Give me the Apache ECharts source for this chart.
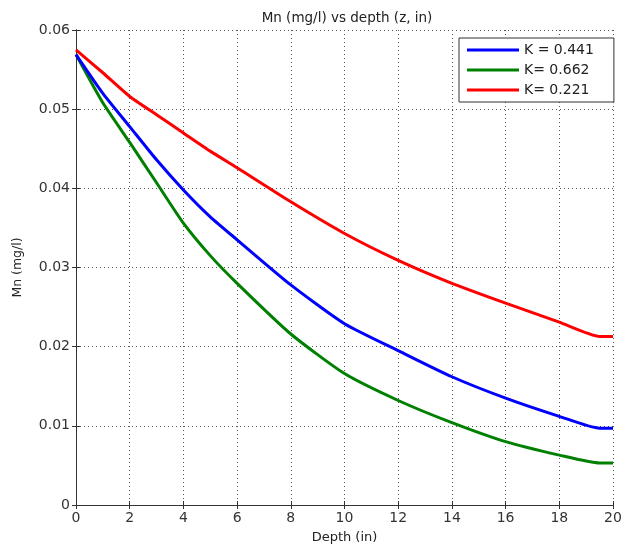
<!DOCTYPE html>
<html><head><meta charset="utf-8">
<script src="https://cdn.jsdelivr.net/npm/echarts@6/dist/echarts.min.js"></script>
<style>html,body{margin:0;padding:0;background:#fff}#c{width:621px;height:546px}</style>
</head><body><div id="c"></div>
<script>
const depth = [0, 1, 2, 3, 4, 5, 6, 8, 10, 12, 14, 16, 18, 19.5, 20];
const k441 = [0.0569, 0.0520, 0.0478, 0.0436, 0.0398, 0.0364, 0.0335, 0.0278, 0.0229, 0.0195, 0.0162, 0.0135, 0.0112, 0.0097, 0.0097];
const k662 = [0.0569, 0.0508, 0.0458, 0.0407, 0.0356, 0.0315, 0.0280, 0.0216, 0.0166, 0.0132, 0.0104, 0.0080, 0.0063, 0.0053, 0.0053];
const k221 = [0.0575, 0.0546, 0.0516, 0.0493, 0.0470, 0.0447, 0.0426, 0.0383, 0.0343, 0.0309, 0.0280, 0.0255, 0.0231, 0.0213, 0.0213];
const seriesNames = ['K = 0.441', 'K= 0.662', 'K= 0.221'];
const seriesColors = ['#0000ff', '#008000', '#ff0000'];
const xTicks = [0, 2, 4, 6, 8, 10, 12, 14, 16, 18, 20];
const yTicks = [0, 0.01, 0.02, 0.03, 0.04, 0.05, 0.06];

const pairs = a => depth.map((d, i) => [d, a[i]]);
const font = 'DejaVu Sans, Verdana, sans-serif';
const chart = echarts.init(document.getElementById('c'));
const axisLine = {show: true, lineStyle: {color: '#333', width: 1}};
const grid = {type: [1, 3], color: '#555', width: 1};
const tick = {show: true, inside: true, length: 4, lineStyle: {color: '#333'}};
chart.setOption({
  animation: false,
  backgroundColor: '#fff',
  title: {text: 'Mn (mg/l) vs depth (z, in)', left: 342, textAlign: 'center', top: 6,
    textStyle: {fontFamily: font, fontSize: 13.5, fontWeight: 'normal', color: '#222'}},
  grid: {left: 76, right: 8, top: 30, bottom: 41, containLabel: false, outerBoundsMode: 'none'},
  legend: {
    orient: 'vertical', left: 459, top: 38, padding: [5, 20, 5, 8],
    backgroundColor: '#fff', borderColor: '#333', borderWidth: 1,
    itemWidth: 52, itemHeight: 3, itemGap: 6, icon: 'rect',
    textStyle: {fontFamily: font, fontSize: 14, color: '#222', padding: [0, 0, 0, 0]},
    data: seriesNames
  },
  xAxis: [{
    type: 'value', min: 0, max: 20, interval: 2,
    name: 'Depth (in)', nameLocation: 'middle', nameGap: 26,
    nameTextStyle: {fontFamily: font, fontSize: 13, color: '#222'},
    axisLine: axisLine, axisTick: tick,
    axisLabel: {fontFamily: font, fontSize: 14, color: '#333', margin: 6,
      formatter: v => xTicks.includes(v) ? String(v) : ''},
    splitLine: {show: true, lineStyle: grid}
  }, {
    type: 'value', min: 0, max: 20, interval: 2, position: 'top',
    axisLine: axisLine, axisTick: tick,
    axisLabel: {show: false}, splitLine: {show: false}
  }],
  yAxis: [{
    type: 'value', min: 0, max: 0.06, interval: 0.01,
    name: 'Mn (mg/l)', nameLocation: 'middle', nameGap: 52,
    nameTextStyle: {fontFamily: font, fontSize: 12.5, color: '#222'},
    axisLine: axisLine, axisTick: tick,
    axisLabel: {fontFamily: font, fontSize: 14, color: '#333', margin: 6,
      formatter: v => { const t = yTicks.find(y => Math.abs(y - v) < 1e-9); return t === undefined ? '' : (t === 0 ? '0' : t.toFixed(2)); }},
    splitLine: {show: true, lineStyle: grid}
  }, {
    type: 'value', min: 0, max: 0.06, interval: 0.01, position: 'right',
    axisLine: axisLine, axisTick: tick,
    axisLabel: {show: false}, splitLine: {show: false}
  }],
  series: [k441, k662, k221].map((arr, i) => ({
    name: seriesNames[i], type: 'line', data: pairs(arr), showSymbol: false, symbol: 'none',
    smooth: 0.2, lineStyle: {color: seriesColors[i], width: 3}, itemStyle: {color: seriesColors[i]},
    z: 3 - i
  }))
});
</script></body></html>
